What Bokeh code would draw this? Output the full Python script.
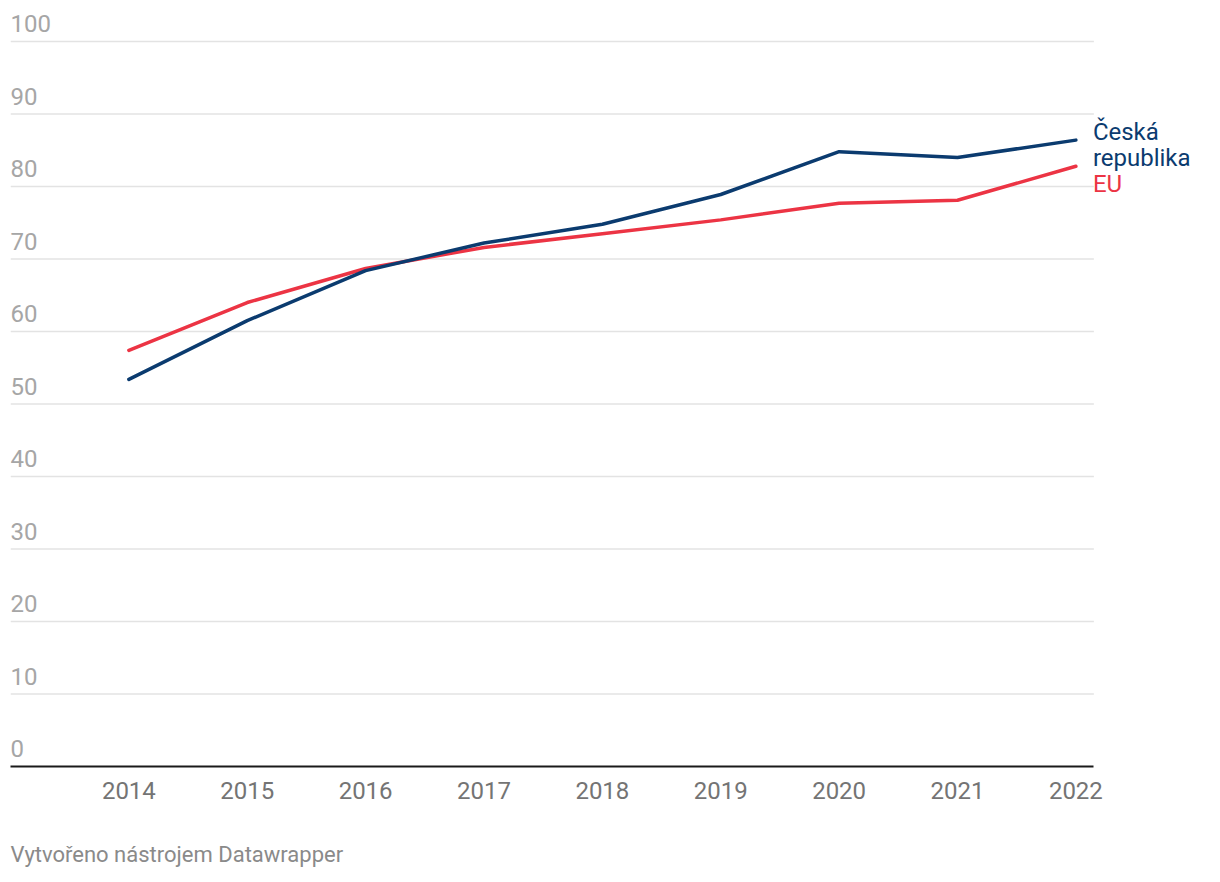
from bokeh.plotting import figure
from bokeh.models import FixedTicker, Label, Range1d, ColumnDataSource, Title
from bokeh.core.properties import value
from bokeh.embed import file_html
from bokeh.resources import INLINE

years = [2014, 2015, 2016, 2017, 2018, 2019, 2020, 2021, 2022]
cz = [53.4, 61.5, 68.4, 72.2, 74.8, 78.9, 84.8, 84.0, 86.4]
eu = [57.4, 64.0, 68.7, 71.6, 73.5, 75.4, 77.7, 78.1, 82.8]
y_ticks = [0, 10, 20, 30, 40, 50, 60, 70, 80, 90, 100]
y_tick_labels = [str(t) for t in y_ticks]
series_names = ["Česká republika", "EU"]
footer = "Vytvořeno nástrojem Datawrapper"

CZ_COLOR = "#0b3b6f"
EU_COLOR = "#ec3444"
FONT = "Roboto"
PX_PER_UNIT = 725 / 100.0
PX_PER_YEAR = 118.375
X0 = 2013.0
X_END = 2022.152

p = figure(width=1220, height=882, frame_width=1210, frame_height=766,
           output_backend="svg", toolbar_location=None,
           x_range=Range1d(X0, X0 + 1210 / PX_PER_YEAR), y_range=Range1d(0, 105.66),
           min_border_left=10, min_border_right=0, min_border_top=0,
           min_border_bottom=116)
p.outline_line_color = None
p.background_fill_color = "white"
p.border_fill_color = "white"

p.yaxis.visible = False
p.xgrid.visible = False
p.ygrid.visible = False

# horizontal gridlines limited to the chart area
gy = y_ticks[1:]
p.segment(x0=[X0] * len(gy), x1=[X_END] * len(gy), y0=gy, y1=gy,
          line_color="#e3e3e3", line_width=1.5)

xa = p.xaxis[0]
xa.ticker = FixedTicker(ticks=years)
xa.bounds = (X0, X_END)
xa.major_tick_line_color = None
xa.minor_tick_line_color = None
xa.axis_line_color = "#1a1a1a"
xa.axis_line_width = 2
xa.major_label_text_font = FONT
xa.major_label_text_font_size = "24px"
xa.major_label_text_color = "#747474"
xa.major_label_standoff = 9

# y tick labels above gridlines
src = ColumnDataSource(dict(x=[X0] * len(y_ticks),
                            y=[t + 18 / PX_PER_UNIT for t in y_ticks],
                            t=y_tick_labels))
p.text(x="x", y="y", text="t", source=src, text_font=value(FONT),
       text_font_size="24px", text_color="#a6a6a6",
       text_align="left", text_baseline="alphabetic")

p.line(years, eu, line_color=EU_COLOR, line_width=3.5, line_join="round", line_cap="round")
p.line(years, cz, line_color=CZ_COLOR, line_width=3.5, line_join="round", line_cap="round")

words = series_names[0].split(" ")
lbl_specs = [(words[0], cz[-1] + 8 / PX_PER_UNIT, CZ_COLOR),
             (words[1], cz[-1] - 18 / PX_PER_UNIT, CZ_COLOR),
             (series_names[1], cz[-1] - 44 / PX_PER_UNIT, EU_COLOR)]
for txt, yy, col in lbl_specs:
    p.add_layout(Label(x=years[-1], y=yy, x_offset=17, text=txt,
                       text_font=FONT, text_font_size="24px", text_color=col,
                       text_align="left", text_baseline="alphabetic"))

p.add_layout(Title(text=footer, align="left", text_font=FONT,
                   text_font_size="22px", text_color="#8a8a8a",
                   text_font_style="normal", standoff=77), "below")

open("out.html", "w").write(file_html(p, INLINE))
